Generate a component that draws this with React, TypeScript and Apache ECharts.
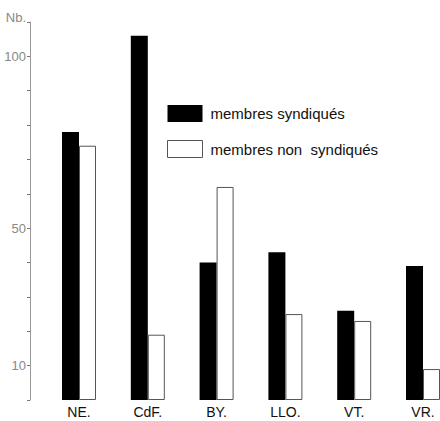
import React, { useEffect, useRef } from "react";
import * as echarts from "echarts";

const categories = ["NE.", "CdF.", "BY.", "LLO.", "VT.", "VR."];
const syndiques = [78, 106, 40, 43, 26, 39];
const nonSyndiques = [74, 19, 62, 25, 23, 9];
const labeledTicks = [10, 50, 100];
const axisTitleValue = 110;
const seriesNames = ["membres syndiqués", "membres non  syndiqués"];

export default function App() {
  const ref = useRef<HTMLDivElement>(null);
  useEffect(() => {
    if (!ref.current) return;
    const chart = echarts.init(ref.current, undefined, { renderer: "svg" });
    chart.setOption({
      animation: false,
      backgroundColor: "#ffffff",
      grid: {
        left: 44.6,
        right: -17.4,
        top: 22,
        bottom: 21,
        containLabel: false,
        outerBoundsMode: "none",
      },
      legend: {
        orient: "vertical",
        left: 162,
        top: 100,
        itemWidth: 35,
        itemHeight: 17,
        itemGap: 18,
        icon: "rect",
        textStyle: {
          fontFamily: "Liberation Sans, Arial, sans-serif",
          fontSize: 15,
          color: "#111",
          padding: [0, 0, 0, 3],
        },
        data: [
          { name: seriesNames[0], itemStyle: { color: "#000", borderWidth: 0 } },
          { name: seriesNames[1], itemStyle: { color: "#fff", borderColor: "#555", borderWidth: 1 } },
        ],
      },
      xAxis: {
        type: "category",
        data: categories,
        axisLine: { show: false },
        axisTick: { show: false },
        axisLabel: {
          margin: 5,
          fontFamily: "Liberation Sans, Arial, sans-serif",
          fontSize: 14,
          color: "#111",
        },
      },
      yAxis: {
        type: "value",
        min: 0,
        max: 110,
        interval: 10,
        offset: 14.6,
        splitLine: { show: false },
        axisLine: { show: true, lineStyle: { color: "#999", width: 1 } },
        axisTick: { show: true, length: 3, lineStyle: { color: "#777" } },
        axisLabel: {
          margin: 4,
          fontFamily: "Liberation Sans, Arial, sans-serif",
          fontSize: 13,
          color: "#888",
          formatter: (v: number) =>
            v === axisTitleValue ? "{nb|Nb.}" : labeledTicks.includes(v) ? String(v) : "",
          rich: {
            nb: {
              fontFamily: "Liberation Sans, Arial, sans-serif",
              fontSize: 13,
              color: "#888",
              padding: [0, 0, 9, 0],
            },
          },
        },
      },
      series: [
        {
          name: seriesNames[0],
          type: "bar",
          data: syndiques,
          barWidth: 17,
          barGap: "0%",
          itemStyle: { color: "#000" },
        },
        {
          name: seriesNames[1],
          type: "bar",
          data: nonSyndiques,
          barWidth: 17,
          barGap: "0%",
          itemStyle: { color: "#fff", borderColor: "#555", borderWidth: 1 },
        },
      ],
    });
    return () => chart.dispose();
  }, []);
  return <div ref={ref} style={{ width: 440, height: 421, position: "fixed", left: 0, top: 0 }} />;
}
